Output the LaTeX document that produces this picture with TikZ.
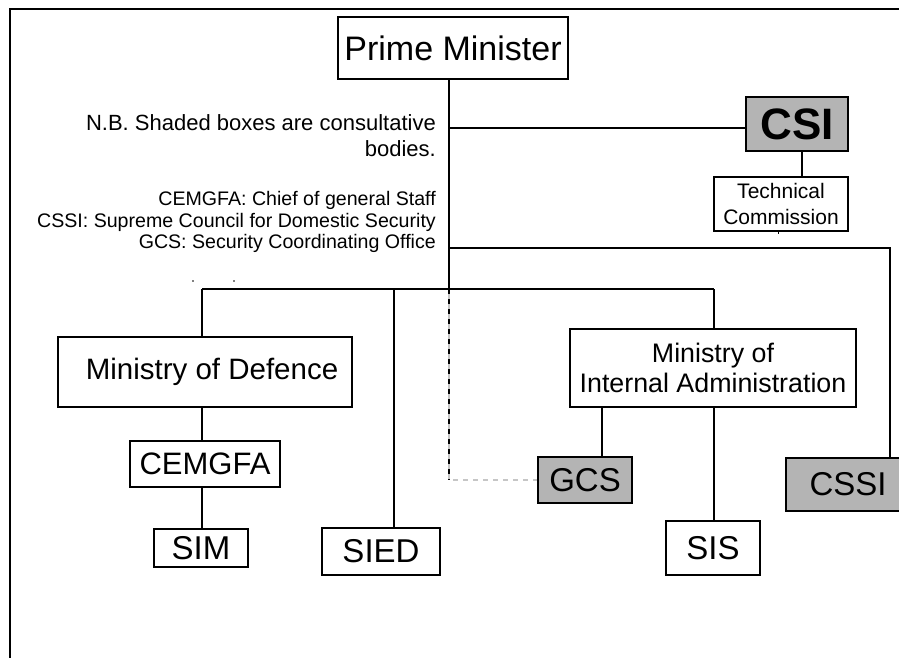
\documentclass[tikz,border=0pt]{standalone}
\usepackage{fontspec}
\setmainfont{Liberation Sans}
\begin{document}
\begin{tikzpicture}[x=1pt,y=-1pt,
  box/.style={draw,line width=1.9pt,inner sep=0pt,font=\fontsize{31}{34}\selectfont,text=black},
  shaded/.style={box,fill=shadegray},
  conn/.style={line width=1.9pt},
  note/.style={anchor=base east,inner sep=0pt,font=\fontsize{22}{24}\selectfont},
  small/.style={anchor=base east,inner sep=0pt,font=\fontsize{19.6}{21}\selectfont}]
\definecolor{shadegray}{HTML}{B4B4B4}
\useasboundingbox (0,0) rectangle (899,658);
% frame
\draw[line width=1.9pt] (10,670) -- (10,9) -- (910,9);
% nodes
\node[box,minimum width=230pt,minimum height=62pt,font=\fontsize{34}{36}\selectfont] (PM) at (453,48) {Prime Minister};
\node[shaded,minimum width=102pt,minimum height=54pt,font=\fontsize{44}{48}\selectfont\bfseries] (CSI) at (797,124) {CSI};
\node[box,minimum width=134pt,minimum height=54pt,align=center,font=\fontsize{21}{26}\selectfont] (TC) at (781,204) {Technical\\Commission};
\node[box,minimum width=294pt,minimum height=70pt,font=\fontsize{29.5}{32}\selectfont] (MoD) at (205,372) {\hspace*{14pt}Ministry of Defence};
\node[box,minimum width=150pt,minimum height=46pt] (CEM) at (205,464) {CEMGFA};
\node[box,minimum width=94pt,minimum height=38pt,font=\fontsize{33}{34}\selectfont] (SIM) at (201,548) {SIM};
\node[box,minimum width=118pt,minimum height=47pt,font=\fontsize{33}{34}\selectfont] (SIED) at (381,551.5) {SIED};
\node[box,minimum width=286pt,minimum height=78pt,align=center,font=\fontsize{26.8}{30}\selectfont] (MIA) at (713,368) {Ministry of\\Internal Administration};
\node[shaded,minimum width=94pt,minimum height=46pt,font=\fontsize{33}{34}\selectfont] (GCS) at (585,480) {GCS};
\node[box,minimum width=94pt,minimum height=54pt,font=\fontsize{33}{34}\selectfont] (SIS) at (713,548) {SIS};
\node[shaded,minimum width=124pt,minimum height=53pt,font=\fontsize{33}{34}\selectfont] (CSSI) at (848,484.5) {CSSI};
% notes
\node[note] (nb1) at (436,131) {N.B. Shaded boxes are consultative};
\node[note] (nb2) at (436,157) {bodies.};
\node[small] (l1) at (436,205) {CEMGFA: Chief of general Staff};
\node[small] (l2) at (436,227) {CSSI: Supreme Council for Domestic Security};
\node[small] (l3) at (436,248) {GCS: Security Coordinating Office};
\fill (193,281) circle (0.9pt);
\fill (234,281) circle (0.9pt);
\draw[line width=1pt] (778,231) -- (778,234);
% coordinates
\coordinate (bar) at (449,289);
\coordinate (dv) at (202,289);
\coordinate (sv) at (394,289);
\coordinate (mv) at (714,289);
\coordinate (gv) at (602,407);
\coordinate (cs) at (890,248);
% connectors
\draw[conn] (PM.south -| bar) -- (bar);
\draw[conn] ([yshift=-4pt]CSI.west -| bar) -- ([yshift=-4pt]CSI.west);
\draw[conn] ([xshift=5pt]CSI.south) -- ([xshift=5pt]CSI.south |- TC.north);
\draw[conn] (bar |- cs) -- (cs) -- (cs |- CSSI.north);
\draw[conn] (dv) -- (mv);
\draw[conn] (dv) -- (dv |- MoD.north);
\draw[conn] (dv |- MoD.south) -- (dv |- CEM.north);
\draw[conn] (dv |- CEM.south) -- (dv |- SIM.north);
\draw[conn] (sv) -- (sv |- SIED.north);
\draw[conn] (mv) -- (mv |- MIA.north);
\draw[conn] (mv |- MIA.south) -- (mv |- SIS.north);
\draw[conn] (MIA.south -| gv) -- (GCS.north -| gv);
\draw[line width=1.1pt,gray!45,dash pattern=on 5pt off 5pt,dash phase=5pt] (bar) -- (bar |- GCS.west) -- (GCS.west);
\draw[line width=1.1pt,dash pattern=on 5pt off 5pt] (bar) -- (bar |- GCS.west);
\end{tikzpicture}
\end{document}
